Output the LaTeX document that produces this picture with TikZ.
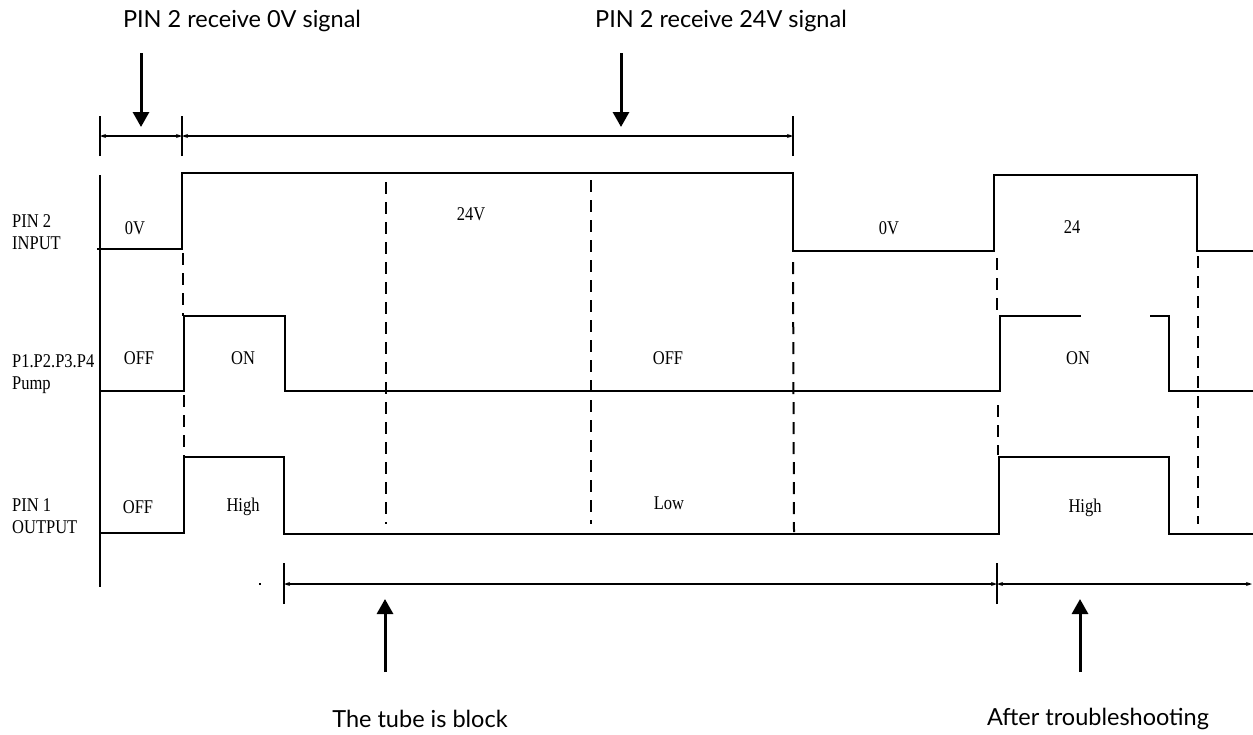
\documentclass[tikz,border=0pt]{standalone}
\usepackage{fontspec}
\setmainfont{Liberation Serif}
\newfontfamily\gillfont{Lato}
\usetikzlibrary{arrows.meta}
\newcommand\tallt[1]{\scalebox{1}[1.18]{#1}}
\begin{document}
\begin{tikzpicture}[x=1pt,y=-1pt,
  sig/.style={line width=2pt, line join=miter, line cap=butt},
  dashline/.style={line width=2pt, dash pattern=on 12pt off 8pt},
  tickmark/.style={line width=2pt},
  dimline/.style={line width=1.5pt, {Stealth[length=6pt,width=4pt]}-{Stealth[length=6pt,width=4pt]}},
  bigarrow/.style={line width=3pt, -{Triangle[length=15pt,width=16pt]}},
  lbl/.style={font=\fontsize{16.5}{22}\selectfont, inner sep=0pt},
  caption/.style={font=\gillfont\fontsize{23.5}{28}\selectfont, inner sep=0pt}]
\useasboundingbox (0,0) rectangle (1253,734);

% ---- top captions and arrows
\node[caption] (t0) at (242,21) {PIN 2 receive 0V signal};
\node[caption] (t24) at (721,21) {PIN 2 receive 24V signal};
\coordinate (a0s) at (141,53); \coordinate (a0e) at (141,127);
\coordinate (a1s) at (621,53); \coordinate (a1e) at (621,127);
\draw[bigarrow] (a0s) -- (a0e);
\draw[bigarrow] (a1s) -- (a1e);

% ---- top dimension bracket
\coordinate (k1) at (100,136); \coordinate (k2) at (182,136); \coordinate (k3) at (793,136);
\foreach \c in {k1,k2,k3} \draw[tickmark] ([yshift=-20pt]\c) -- ([yshift=20pt]\c);
\draw[dimline] (k1) -- (k2);
\draw[dimline] (k2) -- (k3);

% ---- axis
\coordinate (ax1) at (100,175); \coordinate (ax2) at (100,587);
\draw[sig] (ax1) -- (ax2);

% ---- row labels
\node[lbl, align=left, anchor=west] (rin) at (12,232) {\tallt{PIN 2}\\\tallt{INPUT}};
\node[lbl, align=left, anchor=west] (rpump) at (12,374) {\tallt{P1.P2.P3.P4}\\\tallt{Pump}};
\node[lbl, align=left, anchor=west] (rout) at (12,516) {\tallt{PIN 1}\\\tallt{OUTPUT}};

% ---- PIN 2 input
\draw[sig] (97,249) -- (182,249) -- (182,173) -- (793,173) -- (793,251) -- (994,251)
  -- (994,175) -- (1197,175) -- (1197,251) -- (1253,251);
% ---- pump
\draw[sig] (100,391) -- (184,391) -- (184,316) -- (285,316) -- (285,391) -- (1000,391)
  -- (1000,316) -- (1081,316);
\draw[sig] (1150,316) -- (1169,316) -- (1169,391) -- (1253,391);
% ---- PIN 1 output
\draw[sig] (100,533) -- (184,533) -- (184,457) -- (284,457) -- (284,534) -- (999,534)
  -- (999,457) -- (1169,457) -- (1169,534) -- (1253,534);

% ---- dashed guides
\draw[dashline] (183,253) -- (183,316);
\draw[dashline] (184,395) -- (184,457);
\draw[dashline] (386,182) -- (386,524);
\draw[dashline] (591,180) -- (591,524);
\draw[dashline] (793,262) -- (794,532);
\draw[dashline] (997,258) -- (997,314);
\draw[dashline] (998,405) -- (998,455);
\draw[dashline] (1198,256) -- (1198,524);

% ---- signal texts
\node[lbl] (v0a) at (135,228) {\tallt{0V}};
\node[lbl] (v24a) at (471,214) {\tallt{24V}};
\node[lbl] (v0b) at (889,228) {\tallt{0V}};
\node[lbl] (v24b) at (1072,227) {\tallt{24}};
\node[lbl] (poff1) at (139,358) {\tallt{OFF}};
\node[lbl] (pon1) at (243,358) {\tallt{ON}};
\node[lbl] (poff2) at (668,358) {\tallt{OFF}};
\node[lbl] (pon2) at (1078,358) {\tallt{ON}};
\node[lbl] (ooff) at (138,507) {\tallt{OFF}};
\node[lbl] (ohi1) at (243,507) {\tallt{High}};
\node[lbl] (olow) at (669,503) {\tallt{Low}};
\node[lbl] (ohi2) at (1085,508) {\tallt{High}};

% ---- bottom dimension bracket
\coordinate (b1) at (284,584); \coordinate (b2) at (997,584); \coordinate (b3) at (1252,584);
\foreach \c in {b1,b2} \draw[tickmark] ([yshift=-20pt]\c) -- ([yshift=21pt]\c);
\draw[dimline] (b1) -- (b2);
\draw[dimline] (b2) -- (b3);
\fill (259,583) rectangle (261,585);

% ---- bottom arrows and captions
\coordinate (u0s) at (385,672); \coordinate (u0e) at (385,599);
\coordinate (u1s) at (1080,672); \coordinate (u1e) at (1080,599);
\draw[bigarrow] (u0s) -- (u0e);
\draw[bigarrow] (u1s) -- (u1e);
\node[caption] (c0) at (420,719) {The tube is block};
\node[caption] (c1) at (1098,719) {After troubleshooting};
\end{tikzpicture}
\end{document}
